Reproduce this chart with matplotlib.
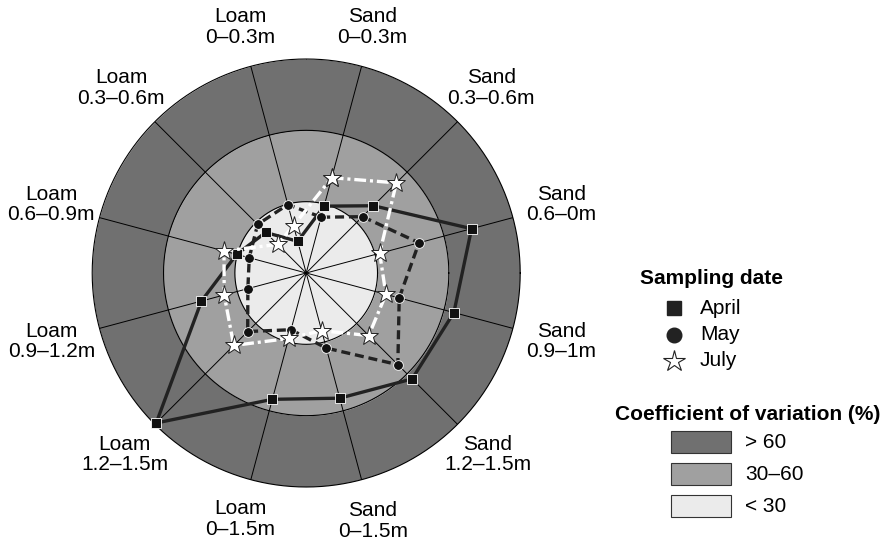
import numpy as np
import matplotlib
matplotlib.use("Agg")
from matplotlib import pyplot as plt
from matplotlib.lines import Line2D
from matplotlib.patches import Rectangle

plt.rcParams['font.family'] = ['Liberation Sans', 'DejaVu Sans']
plt.rcParams['lines.scale_dashes'] = False

# spokes, clockwise from the one just right of top
labels = ["Sand\n0–0.3m", "Sand\n0.3–0.6m", "Sand\n0.6–0m", "Sand\n0.9–1m",
          "Sand\n1.2–1.5m", "Sand\n0–1.5m", "Loam\n0–1.5m", "Loam\n1.2–1.5m",
          "Loam\n0.9–1.2m", "Loam\n0.6–0.9m", "Loam\n0.3–0.6m", "Loam\n0–0.3m"]
label_r = [107, 110, 111, 111, 108, 108, 107, 108, 111, 111, 110, 107]

# coefficient of variation (%) per sampling date
april = [29.1, 40.0, 72.0, 64.3, 63.0, 54.5, 55.0, 89.2, 45.6, 30.3, 24.1, 13.8]
may = [24.3, 33.5, 49.1, 40.5, 54.5, 32.7, 24.7, 34.8, 25.4, 24.8, 28.9, 29.8]
july = [41.5, 53.6, 32.0, 34.7, 37.2, 25.1, 28.5, 43.1, 35.7, 35.8, 17.0, 20.6]

# CV classes
bands = [(60, 90, '#707070', '> 60'), (30, 60, '#a0a0a0', '30–60'),
         (0, 30, '#ebebeb', '< 30')]

W, H = 889, 547


def fx(px):
    return px / W


def fy(py):
    return 1 - py / H


fig = plt.figure(figsize=(W / 100, H / 100), dpi=100)
cx, cy, R = 306.2, 273, 214
ax = fig.add_axes([fx(cx - R), fy(cy + R), 2 * R / W, 2 * R / H],
                  projection='polar')
ax.set_theta_zero_location('E')
ax.set_ylim(0, 90)
ax.grid(False)
ax.set_xticks([])
ax.set_yticks([])
ax.spines['polar'].set_visible(False)

t = np.linspace(0, 2 * np.pi, 721)
for lo, hi, col, _ in bands:
    ax.fill_between(t, lo, hi, color=col, lw=0, zorder=1)
for r in (30, 60, 90):
    ax.plot(t, np.full_like(t, r), color='black', lw=0.8, zorder=2,
            clip_on=False)

ang = np.deg2rad(75 - 30 * np.arange(len(labels)))
for a in ang:
    ax.plot([a, a], [0, 90], color='black', lw=0.7, zorder=2)

for a, lab, r in zip(ang, labels, label_r):
    ax.text(a, r, lab, ha='center', va='center', fontsize=15,
            linespacing=1.1)

ac = np.append(ang, ang[0])


def closed(v):
    return np.append(v, v[0])


ax.plot(ac, closed(april), color='#222222', lw=2.4, zorder=3, clip_on=False,
        marker='s', ms=6.5, mfc='#111111', mec='white', mew=0.6)
ax.plot(ac, closed(may), color='#222222', lw=2.4, zorder=4, clip_on=False,
        dashes=(6.5, 3.5), marker='o', ms=7, mfc='#111111', mec='white',
        mew=0.6)
ax.plot(ac, closed(july), color='white', lw=2.4, zorder=5, clip_on=False,
        dashes=(8.5, 2.8, 2.2, 2.8), marker='*', ms=14, mfc='white',
        mec='#222222', mew=0.7)

# legend, sampling date
fig.text(fx(640), fy(279), 'Sampling date', fontsize=15, fontweight='bold',
         va='center', ha='left')
dates = ['April', 'May', 'July']
ys = [308, 335, 361]
styles = [dict(marker='s', ms=10, mfc='#222222', mec='#222222'),
          dict(marker='o', ms=10.5, mfc='#222222', mec='#222222'),
          dict(marker='*', ms=16, mfc='white', mec='#222222', mew=0.8)]
for d, y, st in zip(dates, ys, styles):
    fig.add_artist(Line2D([fx(674)], [fy(y)], lw=0, **st))
    fig.text(fx(700), fy(y), d, fontsize=15, va='center', ha='left')

# legend, CV classes
fig.text(fx(615), fy(414), 'Coefficient of variation (%)', fontsize=15,
         fontweight='bold', va='center', ha='left')
for i, (lo, hi, col, lab) in enumerate(bands):
    top = 431 + i * 32
    fig.add_artist(Rectangle((fx(671), fy(top + 22)), 60 / W, 22 / H,
                             facecolor=col, edgecolor='#333333', lw=0.8,
                             transform=fig.transFigure))
    fig.text(fx(745), fy(top + 11), lab, fontsize=15, va='center', ha='left')

fig.savefig('out.png', dpi=100)
